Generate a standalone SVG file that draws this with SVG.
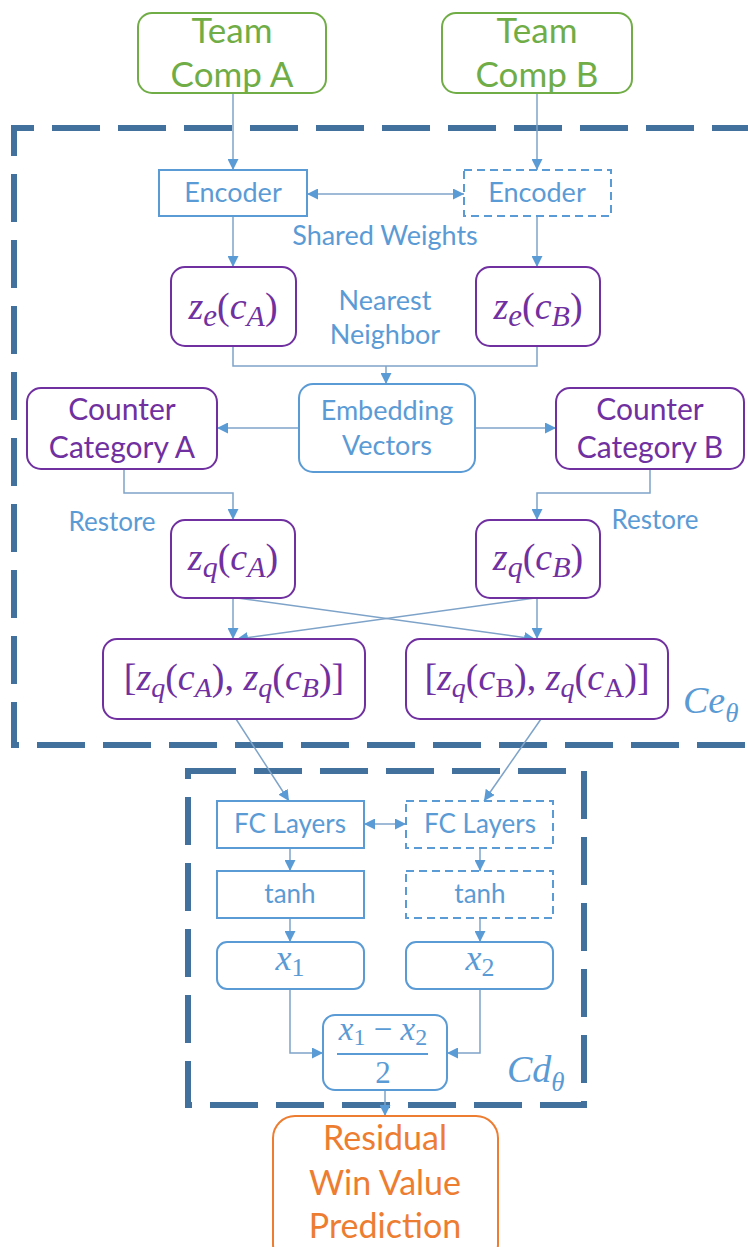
<svg xmlns="http://www.w3.org/2000/svg" width="748" height="1247" viewBox="0 0 748 1247">
<style>
.bg{fill:#ffffff}
.t{font-family:Lato,"Liberation Sans",sans-serif;text-anchor:middle}
.green{fill:#70ad47}
.purple{fill:#7030a0}
.blue{fill:#5b9bd5}
.orange{fill:#ed7d31}
.m{font-family:"Liberation Serif",serif;text-anchor:middle;fill:#7030a0;font-size:38px}
.mb{font-family:"Liberation Serif",serif;text-anchor:middle;fill:#5b9bd5}
.lbl{font-family:"Liberation Serif",serif;text-anchor:start;fill:#5b9bd5;font-style:italic;font-size:38px}
.i{font-style:italic}
.gbox{fill:#fff;stroke:#70ad47;stroke-width:2}
.pbox{fill:#fff;stroke:#7030a0;stroke-width:2}
.bbox{fill:#fff;stroke:#5b9bd5;stroke-width:2}
.dbox{fill:#fff;stroke:#5b9bd5;stroke-width:2;stroke-dasharray:8 5}
.obox{fill:#fff;stroke:#ed7d31;stroke-width:2}
.region{fill:none;stroke:#41719c;stroke-width:6;stroke-dasharray:48 18}
.c{fill:none;stroke:#7ea3c9;stroke-width:1.5}
.ca{fill:none;stroke:#7ea3c9;stroke-width:1.5;marker-end:url(#ah)}
.cb{fill:none;stroke:#7ea3c9;stroke-width:1.5;marker-end:url(#ah);marker-start:url(#ah)}
</style>
<defs>
<marker id="ah" viewBox="0 0 10 10" refX="10" refY="5" markerWidth="11" markerHeight="11" markerUnits="userSpaceOnUse" orient="auto-start-reverse">
<path d="M0,0 L10,5 L0,10 z" fill="#5b9bd5"/>
</marker>
</defs>
<rect class="bg" x="0" y="0" width="748" height="1247"/>

<g id="region-ce">
<path class="region" d="M760,128 H14 V745 H760"/>
<text class="lbl" x="683" y="713">Ce<tspan font-size="27" dy="9">θ</tspan></text>
</g>
<g id="region-cd">
<rect class="region" x="188" y="771" width="396" height="334"/>
<text class="lbl" x="507" y="1082">Cd<tspan font-size="27" dy="9">θ</tspan></text>
</g>

<g id="connectors">
<path class="ca" d="M233,93 V170"/>
<path class="ca" d="M537,93 V170"/>
<path class="cb" d="M307,194 H464"/>
<path class="ca" d="M233,216 V267"/>
<path class="ca" d="M537,216 V267"/>
<path class="c" d="M233,346 V366 H537 V346"/>
<path class="ca" d="M386,366 V384"/>
<path class="ca" d="M299,428 H217"/>
<path class="ca" d="M475,428 H556"/>
<path class="ca" d="M124,469 V493 H233 V520"/>
<path class="ca" d="M650,469 V493 H537 V520"/>
<path class="ca" d="M233,598 V639"/>
<path class="ca" d="M537,598 V639"/>
<path class="ca" d="M237,598 L535,639"/>
<path class="ca" d="M535,598 L237,639"/>
<path class="ca" d="M236,719 L289,801"/>
<path class="ca" d="M541,719 L484,801"/>
<path class="cb" d="M364,824 H406"/>
<path class="ca" d="M290,848 V871"/>
<path class="ca" d="M480,848 V871"/>
<path class="ca" d="M290,918 V942"/>
<path class="ca" d="M480,918 V942"/>
<path class="ca" d="M290,989 V1053 H323"/>
<path class="ca" d="M480,989 V1053 H447"/>
<path class="ca" d="M385,1090 V1116"/>
</g>

<g id="team-a">
<rect class="gbox" x="138" y="13" width="188" height="80" rx="14"/>
<text class="t green" x="232" y="43" font-size="35">Team</text>
<text class="t green" x="232" y="87" font-size="35">Comp A</text>
</g>
<g id="team-b">
<rect class="gbox" x="442" y="13" width="190" height="80" rx="14"/>
<text class="t green" x="537" y="43" font-size="35">Team</text>
<text class="t green" x="537" y="87" font-size="35">Comp B</text>
</g>

<g id="encoder-a">
<rect class="bbox" x="159" y="170" width="148" height="46"/>
<text class="t blue" x="233" y="202" font-size="27">Encoder</text>
</g>
<g id="encoder-b">
<rect class="dbox" x="464" y="170" width="147" height="46"/>
<text class="t blue" x="537" y="202" font-size="27">Encoder</text>
</g>
<g id="shared-weights">
<text class="t blue" x="385" y="245" font-size="27">Shared Weights</text>
</g>

<g id="ze-a">
<rect class="pbox" x="171" y="267" width="125" height="79" rx="14"/>
<text class="m" x="233" y="319" font-size="40"><tspan class="i">z</tspan><tspan class="i" font-size="31" dy="7">e</tspan><tspan dy="-7">(</tspan><tspan class="i">c</tspan><tspan class="i" font-size="30" dy="7">A</tspan><tspan dy="-7">)</tspan></text>
</g>
<g id="ze-b">
<rect class="pbox" x="476" y="267" width="124" height="79" rx="14"/>
<text class="m" x="538" y="319" font-size="40"><tspan class="i">z</tspan><tspan class="i" font-size="31" dy="7">e</tspan><tspan dy="-7">(</tspan><tspan class="i">c</tspan><tspan class="i" font-size="30" dy="7">B</tspan><tspan dy="-7">)</tspan></text>
</g>
<g id="nearest-neighbor">
<text class="t blue" x="385" y="310" font-size="27">Nearest</text>
<text class="t blue" x="385" y="344" font-size="27">Neighbor</text>
</g>

<g id="embedding">
<rect class="bbox" x="299" y="384" width="176" height="88" rx="14"/>
<text class="t blue" x="387" y="420" font-size="27">Embedding</text>
<text class="t blue" x="387" y="455" font-size="27">Vectors</text>
</g>
<g id="counter-a">
<rect class="pbox" x="27" y="388" width="190" height="81" rx="14"/>
<text class="t purple" x="122" y="420" font-size="30">Counter</text>
<text class="t purple" x="122" y="458" font-size="30">Category A</text>
</g>
<g id="counter-b">
<rect class="pbox" x="556" y="388" width="188" height="81" rx="14"/>
<text class="t purple" x="650" y="420" font-size="30">Counter</text>
<text class="t purple" x="650" y="458" font-size="30">Category B</text>
</g>
<g id="restore-a">
<text class="t blue" x="112" y="531" font-size="26">Restore</text>
</g>
<g id="restore-b">
<text class="t blue" x="655" y="529" font-size="26">Restore</text>
</g>

<g id="zq-a">
<rect class="pbox" x="171" y="520" width="124" height="78" rx="14"/>
<text class="m" x="233" y="570" font-size="40"><tspan class="i">z</tspan><tspan class="i" font-size="30" dy="7">q</tspan><tspan dy="-7">(</tspan><tspan class="i">c</tspan><tspan class="i" font-size="30" dy="7">A</tspan><tspan dy="-7">)</tspan></text>
</g>
<g id="zq-b">
<rect class="pbox" x="476" y="520" width="124" height="78" rx="14"/>
<text class="m" x="538" y="570" font-size="40"><tspan class="i">z</tspan><tspan class="i" font-size="30" dy="7">q</tspan><tspan dy="-7">(</tspan><tspan class="i">c</tspan><tspan class="i" font-size="30" dy="7">B</tspan><tspan dy="-7">)</tspan></text>
</g>

<g id="concat-ab">
<rect class="pbox" x="103" y="639" width="262" height="80" rx="14"/>
<text class="m" x="234" y="690">[<tspan class="i">z</tspan><tspan class="i" font-size="28" dy="7">q</tspan><tspan dy="-7">(</tspan><tspan class="i">c</tspan><tspan class="i" font-size="28" dy="7">A</tspan><tspan dy="-7">), </tspan><tspan class="i">z</tspan><tspan class="i" font-size="28" dy="7">q</tspan><tspan dy="-7">(</tspan><tspan class="i">c</tspan><tspan class="i" font-size="28" dy="7">B</tspan><tspan dy="-7">)]</tspan></text>
</g>
<g id="concat-ba">
<rect class="pbox" x="406" y="639" width="262" height="80" rx="14"/>
<text class="m" x="537" y="690">[<tspan class="i">z</tspan><tspan class="i" font-size="28" dy="7">q</tspan><tspan dy="-7">(</tspan><tspan class="i">c</tspan><tspan font-size="28" dy="7">B</tspan><tspan dy="-7">), </tspan><tspan class="i">z</tspan><tspan class="i" font-size="28" dy="7">q</tspan><tspan dy="-7">(</tspan><tspan class="i">c</tspan><tspan font-size="28" dy="7">A</tspan><tspan dy="-7">)]</tspan></text>
</g>

<g id="fc-a">
<rect class="bbox" x="217" y="801" width="147" height="47"/>
<text class="t blue" x="290" y="833" font-size="26">FC Layers</text>
</g>
<g id="fc-b">
<rect class="dbox" x="406" y="801" width="147" height="47"/>
<text class="t blue" x="480" y="833" font-size="26">FC Layers</text>
</g>
<g id="tanh-a">
<rect class="bbox" x="217" y="871" width="147" height="47"/>
<text class="t blue" x="290" y="903" font-size="26">tanh</text>
</g>
<g id="tanh-b">
<rect class="dbox" x="406" y="871" width="147" height="47"/>
<text class="t blue" x="480" y="903" font-size="26">tanh</text>
</g>
<g id="x1">
<rect class="bbox" x="217" y="942" width="147" height="47" rx="10"/>
<text class="mb" x="290" y="970" font-size="36"><tspan class="i">x</tspan><tspan font-size="26" dy="6">1</tspan></text>
</g>
<g id="x2">
<rect class="bbox" x="406" y="942" width="147" height="47" rx="10"/>
<text class="mb" x="480" y="970" font-size="36"><tspan class="i">x</tspan><tspan font-size="26" dy="6">2</tspan></text>
</g>
<g id="diff">
<rect class="bbox" x="323" y="1015" width="124" height="75" rx="12"/>
<text class="mb" x="383" y="1040" font-size="33"><tspan class="i">x</tspan><tspan font-size="24" dy="5">1</tspan><tspan dy="-5"> − </tspan><tspan class="i">x</tspan><tspan font-size="24" dy="5">2</tspan></text>
<path d="M337,1054 H428" stroke="#5b9bd5" stroke-width="2"/>
<text class="mb" x="383" y="1083" font-size="31">2</text>
</g>

<g id="residual">
<rect class="obox" x="273" y="1116" width="225" height="150" rx="22"/>
<text class="t orange" x="385" y="1150" font-size="34">Residual</text>
<text class="t orange" x="385" y="1195" font-size="34">Win Value</text>
<text class="t orange" x="385" y="1238" font-size="34">Prediction</text>
</g>
</svg>
